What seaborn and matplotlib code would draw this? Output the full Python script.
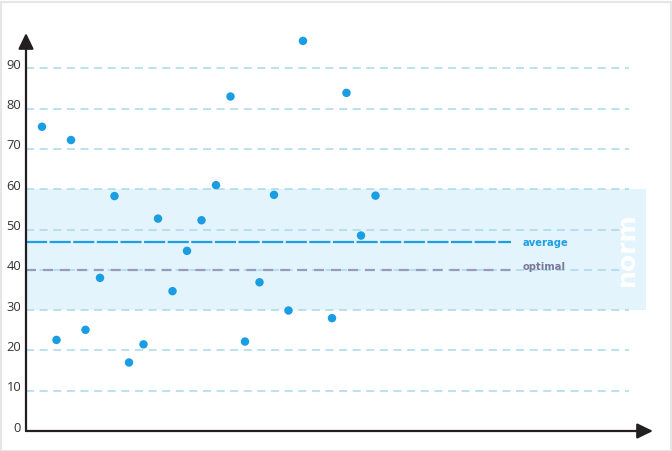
import matplotlib
matplotlib.use("Agg")
import matplotlib.pyplot as plt
import matplotlib.transforms as mtransforms
from matplotlib.patches import Rectangle
import seaborn as sns
import pandas as pd

# ---- data ----
positions = [1, 2, 3, 4, 5, 6, 7, 8, 9, 10, 11, 12, 13, 14, 15, 16, 17, 18, 19, 21, 22, 23, 24]
values = [75.5, 22.6, 72.2, 25.1, 38.0, 58.3, 17.0, 21.5, 52.7, 34.7, 44.7, 52.3,
          61.0, 83.0, 22.2, 36.9, 58.6, 29.9, 96.8, 28.0, 83.9, 48.5, 58.4]
y_ticks = [0, 10, 20, 30, 40, 50, 60, 70, 80, 90]
average_value = 47
optimal_value = 40
norm_low, norm_high = 30, 60
labels = {"average": "average", "optimal": "optimal", "norm": "norm"}

df = pd.DataFrame({"x": positions, "y": values})

sns.set_theme(style="white")
plt.rcParams["lines.scale_dashes"] = False
plt.rcParams["font.family"] = ["Open Sans", "DejaVu Sans"]

W, H = 672, 451
fig = plt.figure(figsize=(W / 100, H / 100), dpi=100, facecolor="white")

# axes placement (pixels)
ax_left, ax_right, ax_top, ax_bottom = 26, 653, 33, 431
ax = fig.add_axes([ax_left / W, 1 - ax_bottom / H, (ax_right - ax_left) / W, (ax_bottom - ax_top) / H])
ax.set_facecolor("none")
x0_px, dx_px = 27.5, 14.5
dy_px = 4.03
ax.set_xlim((ax_left - x0_px) / dx_px, (ax_right - x0_px) / dx_px)
ax.set_ylim(0, (ax_bottom - ax_top) / dy_px)

for s in ax.spines.values():
    s.set_visible(False)

x_start = (ax_left - x0_px) / dx_px
grid_end = (629 - x0_px) / dx_px
band_end = (646 - x0_px) / dx_px
line_end = (511.5 - x0_px) / dx_px

# norm band
ax.add_patch(Rectangle((x_start, norm_low), band_end - x_start, norm_high - norm_low,
                       facecolor="#e3f4fc", edgecolor="none", zorder=0))

# grid lines
ax.hlines(y_ticks[1:], x_start, grid_end, colors="#a9d8ea", linewidth=1.1,
          linestyles=(0, (5.8, 4.0)), zorder=1)

# optimal & average lines
ax.hlines([optimal_value], x_start, line_end, colors="#979bbd", linewidth=1.6,
          linestyles=(0, (7.2, 5.0)), zorder=2)
ax.hlines([average_value], x_start, line_end, colors="#1d9fe4", linewidth=1.6,
          linestyles=(0, (15.2, 1.8)), zorder=2)

# points
sns.scatterplot(data=df, x="x", y="y", ax=ax, color="#1a9de2", s=37,
                edgecolor="none", linewidth=0, zorder=3, legend=False)
ax.set_xlabel("")
ax.set_ylabel("")

# labels
tx = (523 - x0_px) / dx_px
ax.text(tx, 46.6, labels["average"], color="#1d9fe4", fontsize=7.2, fontweight="bold",
        family="DejaVu Sans", ha="left", va="center", zorder=4)
ax.text(tx, 40.8, labels["optimal"], color="#7b789c", fontsize=7.2, fontweight="bold",
        family="DejaVu Sans", ha="left", va="center", zorder=4)
ax.text((627 - x0_px) / dx_px, 45.2, labels["norm"], color="white", fontsize=18,
        fontweight="bold", family="DejaVu Sans", rotation=90, ha="center", va="center", zorder=4)

# ticks
ax.set_xticks([])
ax.set_yticks(y_ticks)
ax.set_yticklabels([str(t) for t in y_ticks])
ax.tick_params(axis="y", length=0, pad=3.5, labelsize=9.3, labelcolor="#333333")
offset = mtransforms.ScaledTranslation(0, 0.045, fig.dpi_scale_trans)
for lab in ax.get_yticklabels():
    lab.set_transform(lab.get_transform() + offset)

# axis arrows
arrow_kw = dict(arrowstyle="-|>,head_length=9.5,head_width=4.6", color="#231f20",
                lw=1.6, shrinkA=0, shrinkB=0, mutation_scale=1)
ax.annotate("", xy=(1, 0), xytext=(0, 0), xycoords="axes fraction",
            textcoords="axes fraction", arrowprops=arrow_kw, annotation_clip=False, zorder=5)
ax.annotate("", xy=(0, 1), xytext=(0, 0), xycoords="axes fraction",
            textcoords="axes fraction", arrowprops=arrow_kw, annotation_clip=False, zorder=5)

# light frame around figure
fig.patches.append(Rectangle((0.5 / W, 0.5 / H), 1 - 2 / W, 1 - 2 / H, transform=fig.transFigure,
                             fill=False, edgecolor="#e6e6e6", linewidth=1.5))

fig.savefig("out.png", dpi=100, facecolor="white")
